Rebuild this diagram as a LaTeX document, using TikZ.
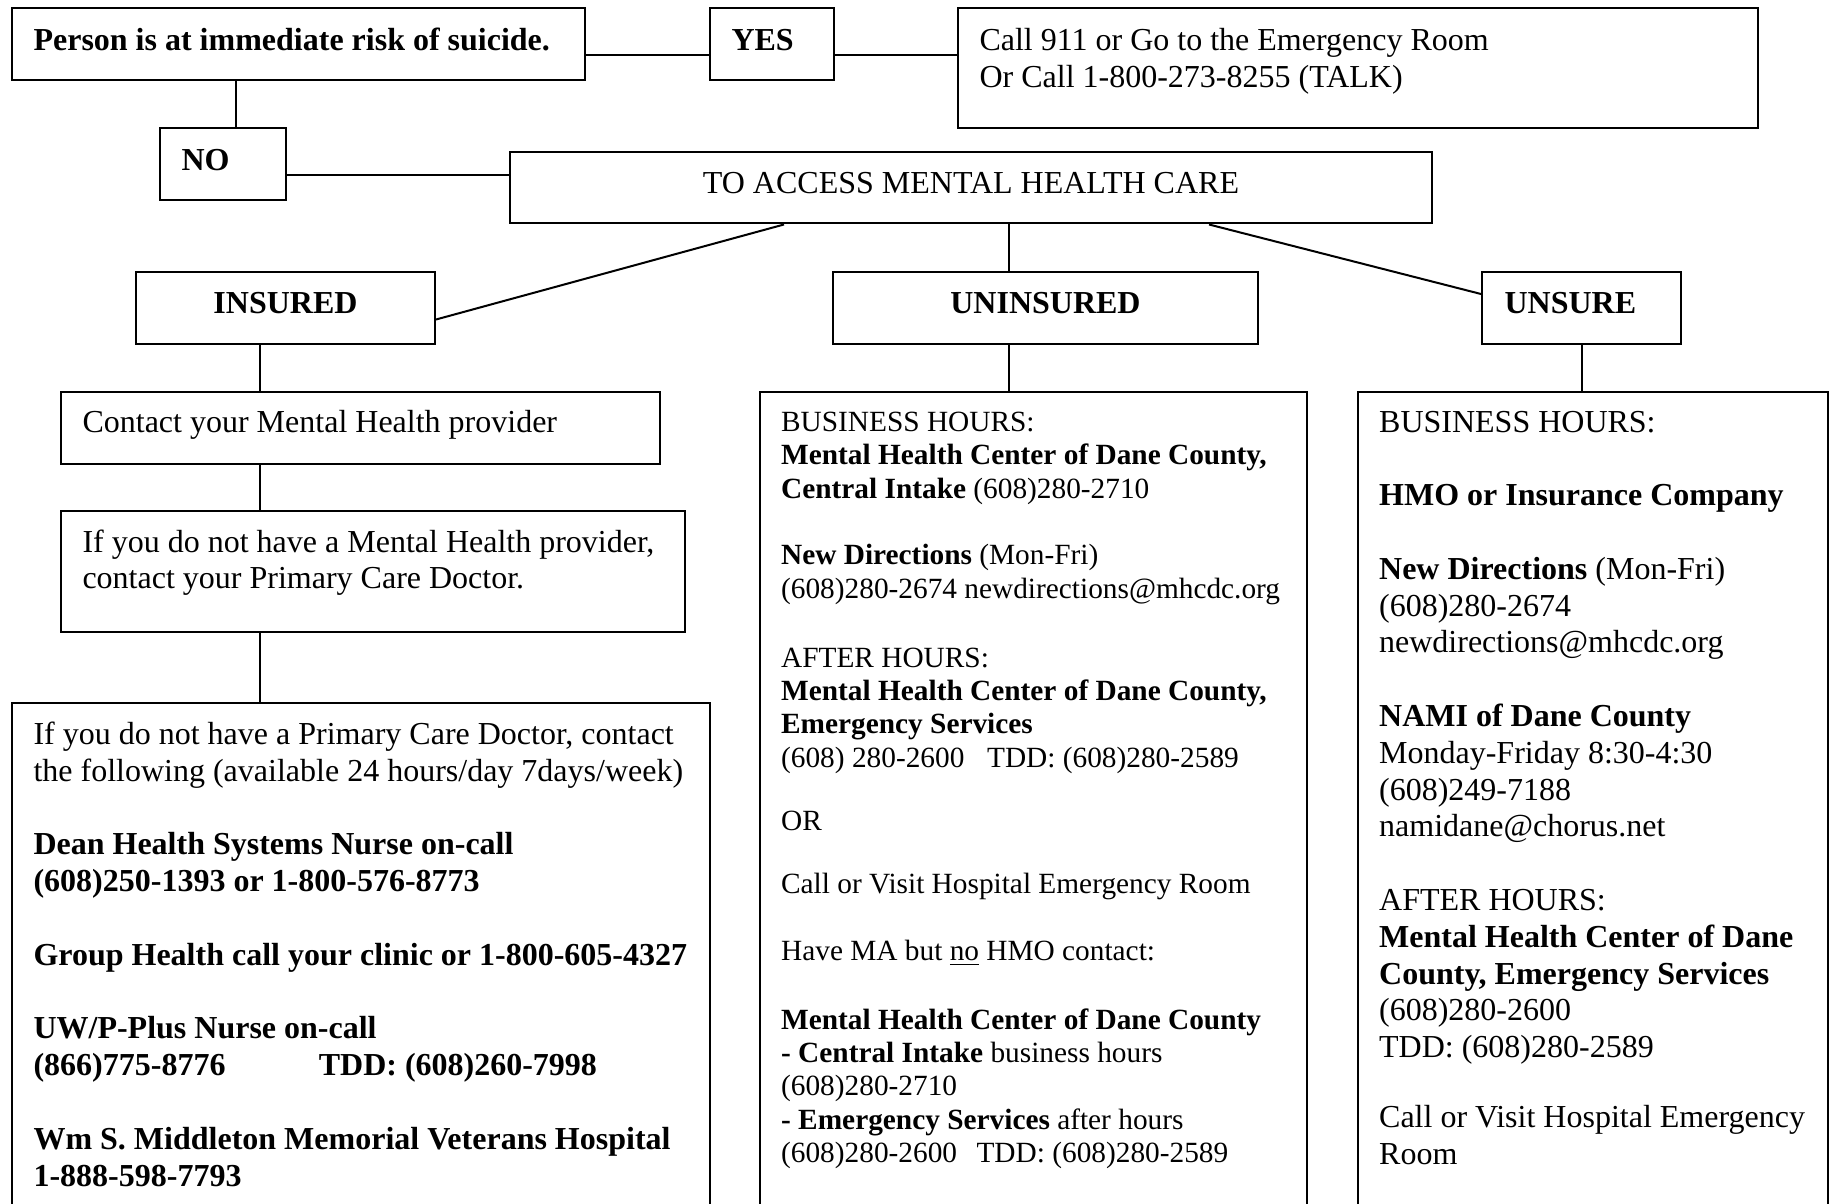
\documentclass[tikz,border=0pt]{standalone}
\usepackage{fontspec}
\setmainfont{Liberation Serif}
\usetikzlibrary{fit}
\newcommand\natsp{\spaceskip=0pt\xspaceskip=0pt\relax}
\begin{document}
\begin{tikzpicture}[x=0.375pt,y=-0.375pt,
  boxst/.style={draw,line width=0.75pt,inner sep=0pt},
  conn/.style={line width=0.75pt},
  twelve/.style={inner sep=0pt,font=\fontsize{12pt}{13.8pt}\selectfont},
  eleven/.style={inner sep=0pt,font=\fontsize{11pt}{12.5pt}\selectfont},
  para/.style={anchor=base west,text width=300pt}
]
\useasboundingbox (0,0) rectangle (1835,1204);
\fill[white] (0,0) rectangle (1835,1204);
\clip (0,0) rectangle (1835,1204);

% ---- boxes ----
\node[boxst,fit={(11.7,8) (585,80)}] (person) {};
\node[boxst,fit={(710,8) (834,80)}] (yes) {};
\node[boxst,fit={(958,8) (1758,128)}] (call) {};
\node[boxst,fit={(160,128) (286,200)}] (no) {};
\node[boxst,fit={(510,152) (1432,223.5)}] (access) {};
\node[boxst,fit={(136,272) (435,344)}] (insured) {};
\node[boxst,fit={(833,272) (1258,344)}] (uninsured) {};
\node[boxst,fit={(1482,272) (1681,344)}] (unsure) {};
\node[boxst,fit={(61,392) (660,463.5)}] (contact) {};
\node[boxst,fit={(61,511) (685,632)}] (ifyou) {};
\node[boxst,fit={(11.7,703) (710,1240)}] (bigleft) {};
\node[boxst,fit={(759.5,392) (1307,1240)}] (mid) {};
\node[boxst,fit={(1357.5,392) (1828,1240)}] (rightbox) {};

% ---- helper coordinates ----
\coordinate (hy) at (0,55);
\coordinate (vx) at (236,0);
\coordinate (ny) at (0,175.5);
\coordinate (dl) at (784,0);
\coordinate (dly) at (0,319.5);
\coordinate (vm) at (1009,0);
\coordinate (dr) at (1209,0);
\coordinate (dry) at (0,294);
\coordinate (vl) at (260,0);

% ---- connectors ----
\draw[conn] (person.east |- hy) -- (yes.west |- hy);
\draw[conn] (yes.east |- hy) -- (call.west |- hy);
\draw[conn] (person.south -| vx) -- (no.north -| vx);
\draw[conn] (no.east |- ny) -- (access.west |- ny);
\draw[conn] (access.south -| dl) -- (insured.east |- dly);
\draw[conn] (access.south -| vm) -- (uninsured.north -| vm);
\draw[conn] (access.south -| dr) -- (unsure.west |- dry);
\draw[conn] (insured.south -| vl) -- (contact.north -| vl);
\draw[conn] (contact.south -| vl) -- (ifyou.north -| vl);
\draw[conn] (ifyou.south -| vl) -- (bigleft.north -| vl);
\draw[conn] (uninsured.south -| vm) -- (mid.north -| vm);
\draw[conn] (unsure.south) -- (rightbox.north -| unsure.south);

% ---- texts ----
\node[twelve,anchor=base west] (tperson) at (33,51) {\textbf{Person is at immediate risk of suicide.}};
\node[twelve,anchor=base west] (tyes) at (731,51) {\textbf{YES}};
\node[twelve,para] (tcall) at (979,51) {\natsp Call 911 or Go to the Emergency Room\\Or Call 1-800-273-8255 (TALK)};
\node[twelve,anchor=base west] (tno) at (181,171) {\textbf{NO}};
\node[twelve,anchor=base] (taccess) at (971,193.5) {TO ACCESS MENTAL HEALTH CARE};
\node[twelve,anchor=base] (tinsured) at (285.5,313.5) {\textbf{INSURED}};
\node[twelve,anchor=base] (tuninsured) at (1045.5,313.5) {\textbf{UNINSURED}};
\node[twelve,anchor=base west] (tunsure) at (1504,313.5) {\textbf{UNSURE}};
\node[twelve,anchor=base west] (tcontact) at (82,432.5) {Contact your Mental Health provider};
\node[twelve,para,font=\fontsize{12pt}{13.6pt}\selectfont] (tifyou) at (82,552.5) {\natsp If you do not have a Mental Health provider,\\contact your Primary Care Doctor.};

\node[twelve,para] (tleft) at (33,744.5) {\natsp If you do not have a Primary Care Doctor, contact\\
the following (available 24 hours/day 7days/week)\\[\baselineskip]
\textbf{Dean Health Systems Nurse on-call}\\
\textbf{(608)250-1393 or 1-800-576-8773}\\[\baselineskip]
\textbf{Group Health call your clinic or 1-800-605-4327}\\[\baselineskip]
\textbf{UW/P-Plus Nurse on-call}\\
\textbf{(866)775-8776\hspace{35pt}TDD: (608)260-7998}\\[\baselineskip]
\textbf{Wm S. Middleton Memorial Veterans Hospital}\\
\textbf{1-888-598-7793}};

\node[eleven,para] (tmid) at (780.6,431.5) {\natsp BUSINESS HOURS:\\
\textbf{Mental Health Center of Dane County,}\\
\textbf{Central Intake} (608)280-2710\\[\baselineskip]
\textbf{New Directions} (Mon-Fri)\\
(608)280-2674 newdirections@mhcdc.org\\[\dimexpr\baselineskip+0.88pt\relax]
AFTER HOURS:\\
\textbf{Mental Health Center of Dane County,}\\
\textbf{Emergency Services}\\
(608) 280-2600\hspace{8.5pt}TDD: (608)280-2589\\[\dimexpr\baselineskip-1.32pt\relax]
OR\\[\dimexpr\baselineskip-1.32pt\relax]
Call or Visit Hospital Emergency Room\\[\baselineskip]
Have MA but \underline{no} HMO contact:\\[\dimexpr\baselineskip+0.88pt\relax]
\textbf{Mental Health Center of Dane County}\\
\textbf{- Central Intake} business hours\\
(608)280-2710\\
\textbf{- Emergency Services} after hours\\
(608)280-2600\hspace{7.3pt}TDD: (608)280-2589};

\node[twelve,para,font=\fontsize{12pt}{13.8pt}\selectfont] (tright) at (1378.6,432) {\natsp BUSINESS HOURS:\\[\baselineskip]
\textbf{HMO or Insurance Company}\\[\baselineskip]
\textbf{New Directions} (Mon-Fri)\\
(608)280-2674\\
newdirections@mhcdc.org\\[\baselineskip]
\textbf{NAMI of Dane County}\\
Monday-Friday 8:30-4:30\\
(608)249-7188\\
namidane@chorus.net\\[\baselineskip]
AFTER HOURS:\\
\textbf{Mental Health Center of Dane}\\
\textbf{County, Emergency Services}\\
(608)280-2600\\
TDD: (608)280-2589\\[\dimexpr\baselineskip-1.3pt\relax]
Call or Visit Hospital Emergency\\
Room};
\end{tikzpicture}
\end{document}
